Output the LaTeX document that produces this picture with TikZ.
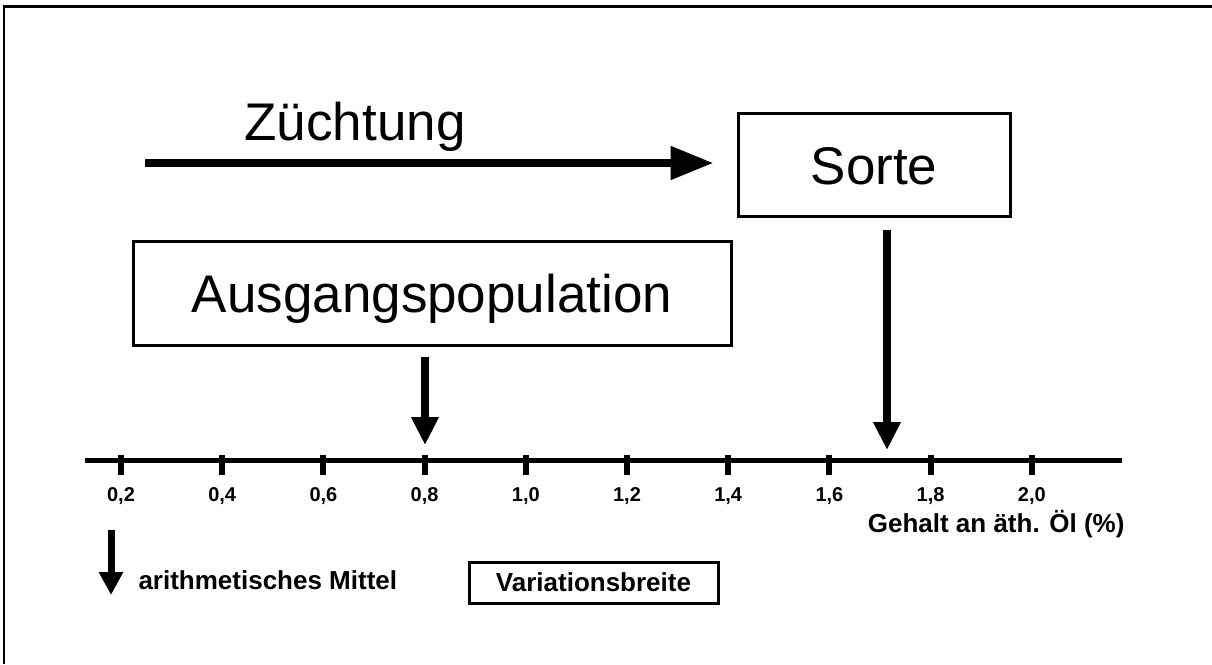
\documentclass[tikz,border=0pt]{standalone}
\usepackage{fontspec}
\setmainfont{Liberation Sans}
\usetikzlibrary{arrows.meta}
\begin{document}
\begin{tikzpicture}[x=1pt,y=-1pt,
  big/.style={font=\fontsize{53}{60}\selectfont},
  boxnode/.style={draw, line width=3pt, inner sep=0pt, big, text height=38pt, text depth=0pt},
  tick/.style={line width=6pt},
  ticklab/.style={font=\fontsize{20}{24}\selectfont\bfseries},
  smalllab/.style={font=\fontsize{26}{30}\selectfont\bfseries},
  varrow/.style={line width=8pt, -{Triangle[length=28pt,width=26pt]}},
  harrow/.style={line width=8pt, -{Triangle[length=43pt,width=32pt]}},
  larrow/.style={line width=7pt, -{Triangle[length=23pt,width=23pt]}}]
\useasboundingbox (0,0) rectangle (1212,664);
% frame
\draw[line width=3.5pt] (3,6.5) -- (1212,6.5);
\draw[line width=2pt] (4,6) -- (4,664);
% boxes
\node[boxnode, minimum width=272pt, minimum height=103pt] (sorte) at (874,165) {Sorte};
\node[boxnode, minimum width=598pt, minimum height=104pt] (ausg) at (432,293) {Ausgangspopulation};
\node[big] (zlabel) at (355,127) {Züchtung};
\coordinate (zstart) at (145,163);
\draw[harrow, shorten >=23pt] (zstart) -- (zstart -| sorte.west);
% axis
\coordinate (axL) at (85,460);
\coordinate (axR) at (1122,460);
\draw[line width=5pt] (axL) -- (axR);
\foreach \i/\lab in {0/{0,2},1/{0,4},2/{0,6},3/{0,8},4/{1,0},5/{1,2},6/{1,4},7/{1,6},8/{1,8},9/{2,0}}{
  \coordinate (t\i) at (121+101.2*\i,455);
  \coordinate (b\i) at (121+101.2*\i,475);
  \draw[tick] (t\i) -- (b\i);
  \node[ticklab] (l\i) at (121+101.2*\i,496) {\lab};
}
\node[smalllab, anchor=east] (gehalt) at (1128,524) {Gehalt an äth. Öl (\%)};
% mean arrows
\coordinate (m1) at (425,460);
\draw[varrow, shorten <=10pt, shorten >=15pt] (ausg.south -| m1) -- (m1);
\coordinate (m2) at (887,460);
\draw[varrow, shorten <=12pt, shorten >=10pt] (sorte.south -| m2) -- (m2);
% legend
\coordinate (lgtop) at (111,530);
\coordinate (lgbot) at (111,595);
\draw[larrow] (lgtop) -- (lgbot);
\node[smalllab, anchor=west] (mittel) at (135,580) {arithmetisches Mittel};
\node[smalllab, draw, line width=3pt, minimum width=249pt, minimum height=41pt, inner sep=0pt] (var) at (593.5,582.5) {Variationsbreite};
\end{tikzpicture}
\end{document}
